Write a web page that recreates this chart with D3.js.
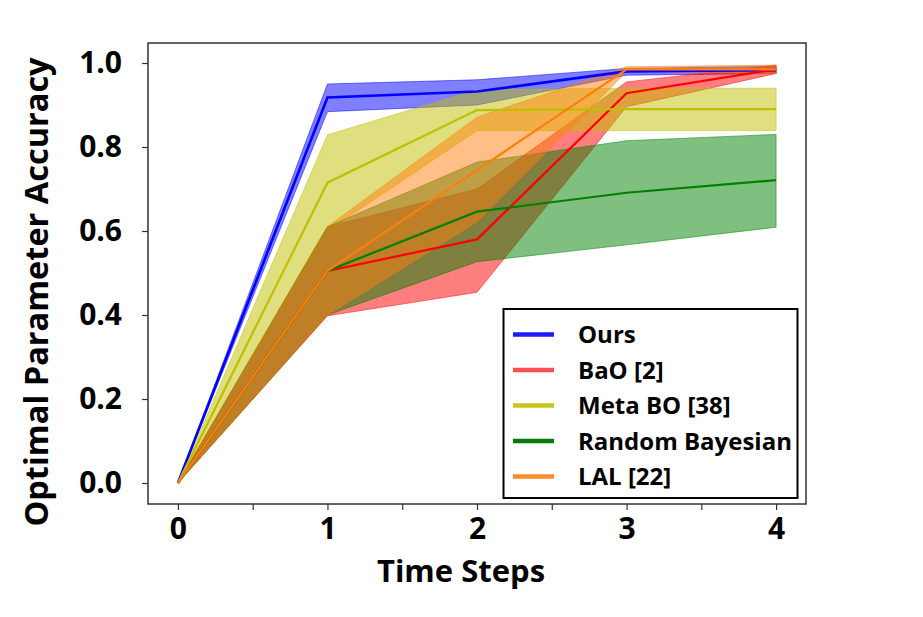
<!DOCTYPE html>
<html>
<head>
<meta charset="utf-8">
<script src="https://cdn.jsdelivr.net/npm/d3@7"></script>
<style>
  body { margin: 0; background: #fff; }
  text { font-family: "Open Sans", sans-serif; font-weight: bold; }
</style>
</head>
<body>
<svg id="chart" width="923" height="617"></svg>
<script>
'use strict';

// time steps
const steps = [0, 1, 2, 3, 4];

// mean / lower / upper per method
const oursMean  = [0, 0.918, 0.932, 0.980, 0.983];
const oursLow   = [0, 0.884, 0.900, 0.971, 0.975];
const oursHigh  = [0, 0.950, 0.960, 0.987, 0.992];

const baoMean   = [0, 0.505, 0.580, 0.928, 0.985];
const baoLow    = [0, 0.398, 0.454, 0.896, 0.975];
const baoHigh   = [0, 0.610, 0.700, 0.955, 0.995];

const metaMean  = [0, 0.715, 0.888, 0.890, 0.890];
const metaLow   = [0, 0.600, 0.839, 0.839, 0.839];
const metaHigh  = [0, 0.829, 0.936, 0.940, 0.940];

const randMean  = [0, 0.505, 0.646, 0.691, 0.721];
const randLow   = [0, 0.400, 0.527, 0.567, 0.609];
const randHigh  = [0, 0.610, 0.764, 0.815, 0.830];

const lalMean   = [0, 0.505, 0.745, 0.985, 0.985];
const lalLow    = [0, 0.400, 0.622, 0.979, 0.975];
const lalHigh   = [0, 0.610, 0.871, 0.991, 0.995];

const seriesNames = ['Ours', 'BaO [2]', 'Meta BO [38]', 'Random Bayesian', 'LAL [22]'];
const lineColors  = ['#0000ff', '#ff0000', '#bfbf00', '#008000', '#ff7f0e'];
const legendColors = ['#1a1aff', '#ff5050', '#c6c61c', '#0a7a0a', '#ff8a2a'];

const yTicks = [0, 0.2, 0.4, 0.6, 0.8, 1.0];
const xTicks = [0, 0.5, 1, 1.5, 2, 2.5, 3, 3.5, 4];

const series = [
  { mean: oursMean, low: oursLow, high: oursHigh },
  { mean: baoMean,  low: baoLow,  high: baoHigh },
  { mean: metaMean, low: metaLow, high: metaHigh },
  { mean: randMean, low: randLow, high: randHigh },
  { mean: lalMean,  low: lalLow,  high: lalHigh }
];

let svg = d3.select('#chart');
let plotLeft = 148, plotTop = 43, plotRight = 806, plotBottom = 504;

let x = d3.scaleLinear().domain([-0.2, 4.2]).range([plotLeft, plotRight]);
let y = d3.scaleLinear().domain([-0.05, 1.0476]).range([plotBottom, plotTop]);

svg.append('rect').attr('width', 923).attr('height', 617).attr('fill', '#fff');

let fills = svg.append('g'),
	lines = svg.append('g');

// bands sit under all the mean lines
series.forEach(function(s, i) {
  let area = d3.area()
    .x((d, k) => x(steps[k]))
    .y0((d, k) => y(s.low[k]))
    .y1((d, k) => y(s.high[k]));
  let line = d3.line()
    .x((d, k) => x(steps[k]))
    .y((d, k) => y(s.mean[k]));

  fills.append('path')
    .datum(steps)
    .attr('d', area)
    .attr('fill', lineColors[i])
    .attr('fill-opacity', 0.5)
    .attr('stroke', lineColors[i])
    .attr('stroke-opacity', 0.5)
    .attr('stroke-width', 1);

  lines.append('path')
    .datum(steps)
    .attr('d', line)
    .attr('fill', 'none')
    .attr('stroke', lineColors[i])
    .attr('stroke-width', i === 0 ? 2.6 : 2.2);
});

// frame
svg.append('rect')
  .attr('x', plotLeft).attr('y', plotTop)
  .attr('width', plotRight - plotLeft).attr('height', plotBottom - plotTop)
  .attr('fill', 'none')
  .attr('stroke', '#333')
  .attr('stroke-width', 1.5);

// axes
let yAxis = svg.append('g')
  .attr('transform', `translate(${plotLeft},0)`)
  .call(d3.axisLeft(y).tickValues(yTicks).tickSize(6).tickPadding(20).tickFormat(d3.format('.1f')));
let xAxis = svg.append('g')
  .attr('transform', `translate(0,${plotBottom})`)
  .call(d3.axisBottom(x).tickValues(xTicks).tickSize(6).tickPadding(8)
    .tickFormat(d => Number.isInteger(d) ? d : ''));

[yAxis, xAxis].forEach(function(a) {
  a.select('.domain').remove();
  a.selectAll('line').attr('stroke', '#333').attr('stroke-width', 1.2);
  a.selectAll('text').attr('font-size', 30).attr('fill', '#000')
    .style('font-family', '"Open Sans", sans-serif').style('font-weight', 'bold');
});

// axis titles
svg.append('text')
  .attr('x', 461).attr('y', 582)
  .attr('text-anchor', 'middle')
  .attr('font-size', 31)
  .text('Time Steps');

svg.append('text')
  .attr('transform', 'translate(48,292) rotate(-90)')
  .attr('text-anchor', 'middle')
  .attr('font-size', 32.5)
  .text('Optimal Parameter Accuracy');

// legend
let legend = svg.append('g');
legend.append('rect')
  .attr('x', 503.5).attr('y', 309)
  .attr('width', 294).attr('height', 189)
  .attr('fill', '#fff')
  .attr('stroke', '#000')
  .attr('stroke-width', 2);

seriesNames.forEach(function(name, i) {
  let cy = 334.5 + i * 35.5;
  legend.append('line')
    .attr('x1', 513).attr('x2', 554)
    .attr('y1', cy).attr('y2', cy)
    .attr('stroke', legendColors[i])
    .attr('stroke-width', 4.5);
  legend.append('text')
    .attr('x', 578).attr('y', cy + 8.5)
    .attr('font-size', 24)
    .text(name);
});
</script>
</body>
</html>
